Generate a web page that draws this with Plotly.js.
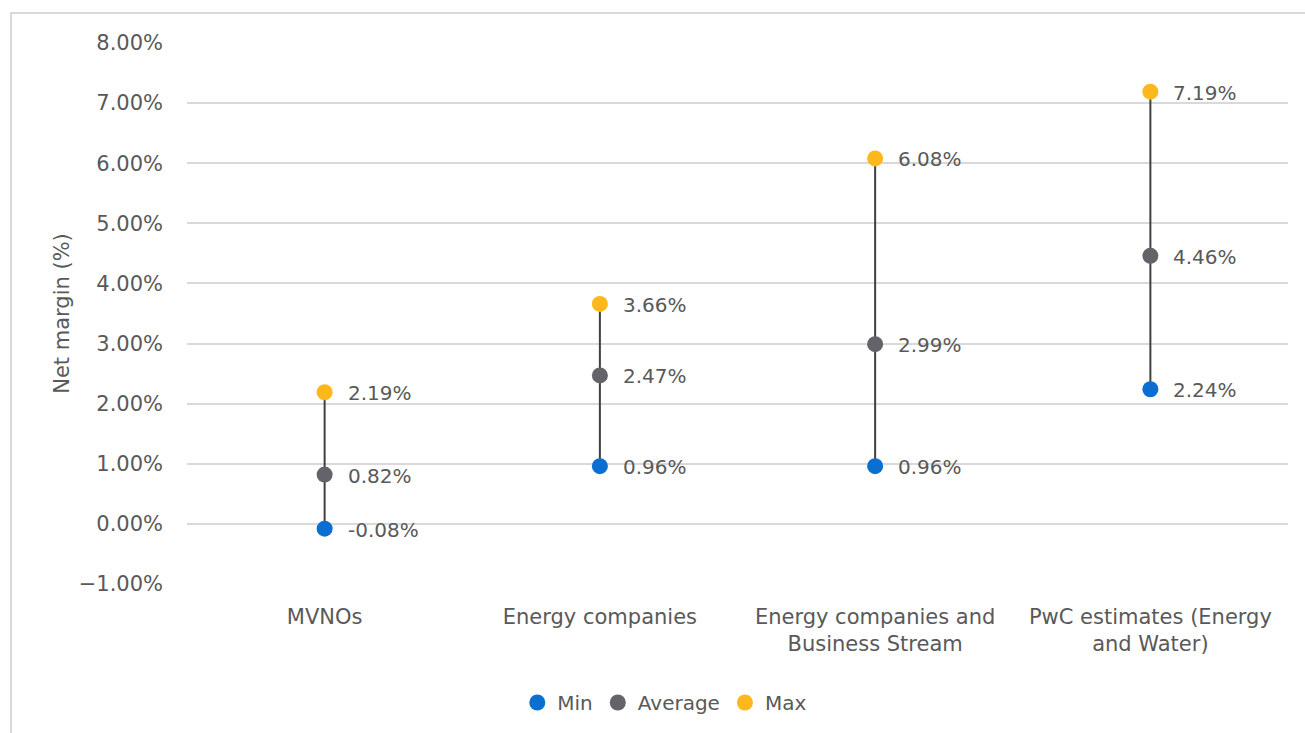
<!DOCTYPE html>
<html>
<head>
<meta charset="utf-8">
<script src="https://cdn.plot.ly/plotly-3.0.1.min.js"></script>
<style>
html, body { margin: 0; padding: 0; background: #fff; overflow: hidden; }
#chart { position: absolute; left: 0; top: 0; width: 1305px; height: 733px; }
#frame { position: absolute; left: 10px; top: 12px; width: 1400px; height: 800px; border: 2px solid #d9d9d9; pointer-events: none; }
</style>
</head>
<body>
<div id="chart"></div>
<div id="frame"></div>
<script>
const categories = ["MVNOs", "Energy companies", "Energy companies and<br>Business Stream", "PwC estimates (Energy<br>and Water)"];
const minValues = [-0.08, 0.96, 0.96, 2.24];
const avgValues = [0.82, 2.47, 2.99, 4.46];
const maxValues = [2.19, 3.66, 6.08, 7.19];
const seriesNames = ["Min", "Average", "Max"];
const seriesColors = ["#0a6fd1", "#636369", "#ffb81c"];

const FONT = "DejaVu Sans, Open Sans, sans-serif";
const TXT = "#595959";

// connecting vertical lines from min to max
const lx = [], ly = [];
categories.forEach((c, i) => { lx.push(c, c, null); ly.push(minValues[i], maxValues[i], null); });

const traces = [{
  x: lx, y: ly, type: "scatter", mode: "lines",
  line: { color: "#404040", width: 2 }, showlegend: false, hoverinfo: "skip"
}];
const seriesValues = [minValues, avgValues, maxValues];
seriesValues.forEach((vals, k) => {
  traces.push({
    x: categories, y: vals, type: "scatter", mode: "markers",
    name: seriesNames[k],
    marker: { color: seriesColors[k], size: 16 },
  });
});

const annotations = [];
seriesValues.forEach((vals) => {
  vals.forEach((v, i) => {
    annotations.push({
      x: categories[i], y: v, xref: "x", yref: "y",
      text: v.toFixed(2) + "%", showarrow: false,
      xanchor: "left", yanchor: "middle", xshift: 21, yshift: -1,
      font: { family: FONT, size: 20, color: TXT }
    });
  });
});

const layout = {
  width: 1305, height: 733,
  margin: { l: 187, r: 17, t: 43, b: 149, autoexpand: false },
  paper_bgcolor: "#ffffff", plot_bgcolor: "#ffffff",
  font: { family: FONT, size: 21, color: TXT },
  showlegend: true,
  legend: {
    orientation: "h", x: 0.3, xanchor: "left", y: -0.183, yanchor: "top",
    font: { family: FONT, size: 20, color: TXT }, itemwidth: 30, traceorder: "normal"
  },
  xaxis: {
    type: "category", range: [-0.5, 3.5], showgrid: false, zeroline: false,
    showline: false, ticks: "", ticklabelstandoff: 18, automargin: false,
    tickfont: { family: FONT, size: 21, color: TXT },
    fixedrange: true
  },
  yaxis: {
    range: [-1, 8], dtick: 1, tick0: 0, ticksuffix: "%", tickformat: ".2f",
    showgrid: true, gridcolor: "#d9d9d9", gridwidth: 2, zeroline: false,
    showline: false, ticks: "", ticklabelstandoff: 23, automargin: false,
    tickfont: { family: FONT, size: 21, color: TXT },
    title: { text: "Net margin (%)", font: { family: FONT, size: 21, color: TXT }, standoff: 3 },
    fixedrange: true
  },
  annotations: annotations
};

Plotly.newPlot("chart", traces, layout, { displayModeBar: false, staticPlot: true });
</script>
</body>
</html>
